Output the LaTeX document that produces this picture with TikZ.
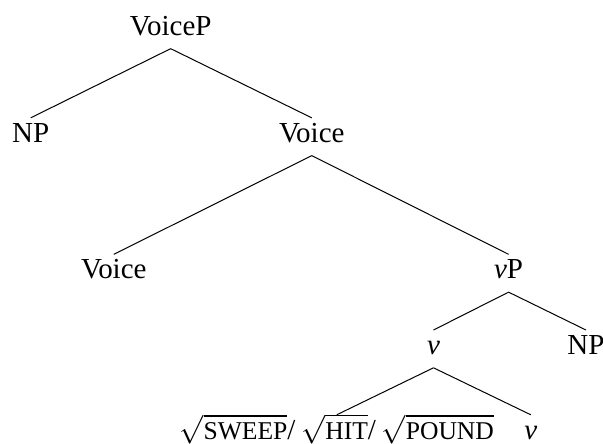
\documentclass[tikz,border=0pt]{standalone}
\usepackage{fontspec}
\setmainfont{Liberation Serif}
\newcommand{\rootsc}[1]{{\fontsize{12.8}{12.8}\selectfont #1}}

\begin{document}
\begin{tikzpicture}[lbl/.style={inner sep=0pt,anchor=base,text height=12pt,text depth=6.5pt,font=\fontsize{14.5}{17}\selectfont}]
\useasboundingbox (0,0) rectangle (10.60,7.79);
\node[lbl] (voicep) at (3.00,7.17) {VoiceP};
\node[lbl] (npa) at (0.54,5.29) {NP};
\node[lbl] (voicebar) at (5.48,5.29) {Voice};
\node[lbl] (voice) at (2.00,2.89) {Voice};
\node[lbl] (vp) at (8.94,2.89) {\textit{v}P};
\node[lbl] (vbar) at (7.62,1.56) {\textit{v}};
\node[lbl] (npb) at (10.30,1.56) {NP};
\node[lbl] (roots) at (5.92,0.07) {$\sqrt{\mbox{\rootsc{SWEEP}}}$/\hspace{0.2em}$\sqrt{\mbox{\rootsc{HIT}}}$/\hspace{0.2em}$\sqrt{\mbox{\rootsc{POUND}}}$};
\node[lbl] (v) at (9.33,0.07) {\textit{v}};
\draw[line width=0.5pt] (voicep.south) -- (npa.north);
\draw[line width=0.5pt] (voicep.south) -- (voicebar.north);
\draw[line width=0.5pt] (voicebar.south) -- (voice.north);
\draw[line width=0.5pt] (voicebar.south) -- (vp.north);
\draw[line width=0.5pt] (vp.south) -- (vbar.north);
\draw[line width=0.5pt] (vp.south) -- (npb.north);
\draw[line width=0.5pt] (vbar.south) -- (roots.north);
\draw[line width=0.5pt] (vbar.south) -- (v.north);
\end{tikzpicture}
\end{document}
